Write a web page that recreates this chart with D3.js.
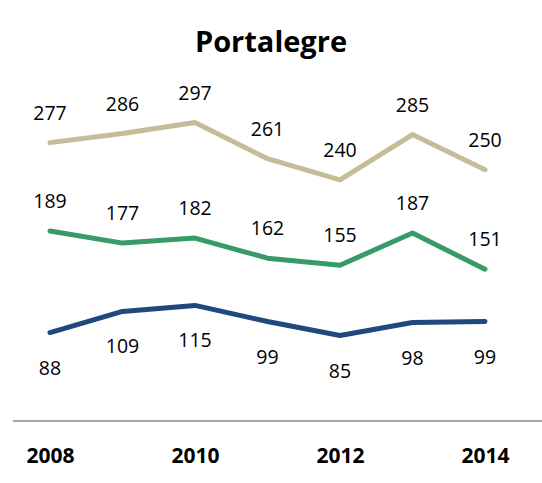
<!DOCTYPE html>
<html>
<head>
<meta charset="utf-8">
<script src="https://cdn.jsdelivr.net/npm/d3@7"></script>
<style>
  body { margin: 0; background: #fff; }
  text { font-family: "Open Sans", sans-serif; }
</style>
</head>
<body>
<script>
// data
var years = [2008, 2009, 2010, 2011, 2012, 2013, 2014];
var tickYears = [2008, 2010, 2012, 2014];
var serieTop = [277, 286, 297, 261, 240, 285, 250];
var serieMid = [189, 177, 182, 162, 155, 187, 151];
var serieLow = [88, 109, 115, 99, 85, 98, 99];

var width = 542, height = 483;

var svg = d3.select("body").append("svg")
    .attr("width", width)
    .attr("height", height);

var x = d3.scaleLinear().domain([2008, 2014]).range([50, 485]);
var y = d3.scaleLinear().domain([0, 300]).range([421, 119.5]);

// titel
svg.append("text")
    .attr("x", 271).attr("y", 52)
    .attr("text-anchor", "middle")
    .style("font-size", "29px").style("font-weight", "bold")
    .text("Portalegre");

// x-axel
var xAxis = d3.axisBottom(x).tickValues(tickYears).tickFormat(d3.format("d")).tickSize(0).tickPadding(27);
var ax = svg.append("g").attr("transform", "translate(0," + y(0) + ")").call(xAxis);
ax.select(".domain").remove();
ax.append("line").attr("x1", 13).attr("x2", 542).attr("y1", 0).attr("y2", 0)
    .attr("stroke", "#a6a6a6").attr("stroke-width", 2);
ax.selectAll("text")
    .style("font-family", "'Open Sans', sans-serif")
    .style("font-size", "21px").style("font-weight", "bold").attr("fill", "#000");

var line = d3.line().x(function(d, i) { return x(years[i]); }).y(function(d) { return y(d); });

var series = [
    { values: serieTop, color: "#c4bd97", dy: -23 },
    { values: serieMid, color: "#379b68", dy: -23 },
    { values: serieLow, color: "#1f497d", dy: 42 }
];

series.forEach(function(s) {
    svg.append("path").datum(s.values)
        .attr("d", line)
        .attr("fill", "none")
        .attr("stroke", s.color)
        .attr("stroke-width", 5)
        .attr("stroke-linecap", "round")
        .attr("stroke-linejoin", "round");

    svg.selectAll(null).data(s.values).enter()
        .append("text")
        .attr("x", function(d, i) { return x(years[i]); })
        .attr("y", function(d) { return y(d) + s.dy; })
        .attr("text-anchor", "middle")
        .style("font-size", "19.5px")
        .attr("fill", "#000")
        .text(function(d) { return d; });
});
</script>
</body>
</html>
